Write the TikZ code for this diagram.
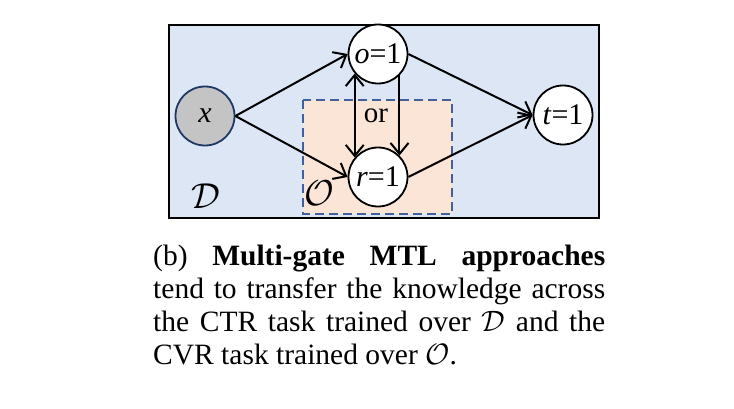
\RequirePackage{fix-cm}
\documentclass[tikz,border=0pt]{standalone}
\usepackage{fontspec}
\setmainfont{Liberation Serif}
\usetikzlibrary{arrows.meta,positioning}
\definecolor{fillD}{HTML}{DCE6F4}
\definecolor{fillO}{HTML}{FBE5D6}
\definecolor{dashO}{HTML}{41609A}
\definecolor{obsgray}{HTML}{C4C4C4}
\definecolor{obsline}{HTML}{1F3864}

\begin{document}
\begin{tikzpicture}[x=1pt,y=-1pt,
   ev/.style={circle,draw,fill=white,line width=1.8pt,minimum size=59pt,
              inner sep=0pt,font=\fontsize{30}{30}\selectfont},
   obs/.style={ev,draw=obsline,fill=obsgray},
   lab/.style={inner sep=0pt,font=\fontsize{36}{36}\selectfont},
   caption/.style={text width=452pt,align=justify,inner sep=0pt,
                   font=\fontsize{29.5}{33.3}\selectfont},
   arr/.style={->,line width=2pt},
   >={Straight Barb[length=11pt,width=18pt]}]
  \useasboundingbox (0,0) rectangle (734,409);
  % regions D and O
  \draw[fill=fillD,line width=1.8pt] (169,25) rectangle (599,218);
  \draw[fill=fillO,draw=dashO,line width=1.8pt,dash pattern=on 9pt off 5pt]
       (303,100) rectangle (452,214);
  \node[lab] (dlab) at (206,196) {$\mathcal{D}$};
  \node[lab] (olab) at (319,193) {$\mathcal{O}$};
  % events
  \node[obs] (x) at (205,116) {\textit{x}};
  \node[ev] (o) at (378,54) {\textit{o}=1};
  \node[ev] (r) at (378,177) {\textit{r}=1};
  \node[ev] (t) at (563,115) {\textit{t}=1};
  \node[font=\fontsize{29}{29}\selectfont,inner sep=0pt] (or) at (376,116) {or};
  \draw[arr] (x.east)--(o.west);
  \draw[arr] (x.east)--(r.west);
  \draw[arr] (o.east)--(t.west);
  \draw[arr] (r.east)--(t.west);
  \draw[arr,<->] (o.-140)--(r.140);
  \draw[arr] (o.-45)--(r.45);
  % caption
  \node[caption,anchor=base west] (cap) at (153,265)
    {(b) \textbf{Multi-gate MTL approaches}\linebreak
     tend to transfer the knowledge across\linebreak
     the CTR task trained over $\mathcal{D}$ and the\linebreak
     CVR task trained over $\mathcal{O}$.};
\end{tikzpicture}
\end{document}
